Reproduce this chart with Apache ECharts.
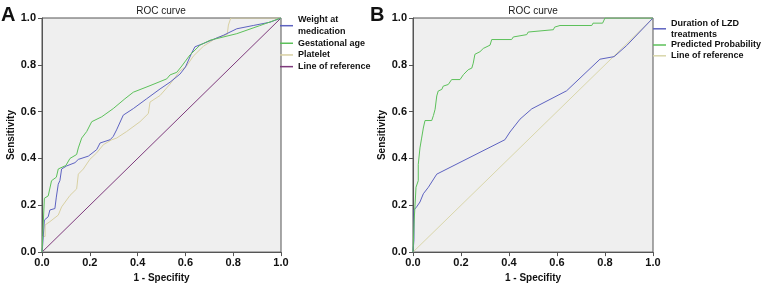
<!DOCTYPE html>
<html>
<head>
<meta charset="utf-8">
<script src="https://cdn.jsdelivr.net/npm/echarts@6/dist/echarts.min.js"></script>
<style>
  html, body { margin: 0; padding: 0; background: #fff; }
  #chart { width: 761px; height: 288px; }
</style>
</head>
<body>
<div id="chart"></div>
<script>
// panel A: [1 - specificity, sensitivity]
const weightAtMedication = [[0,0],[0.003,0.032],[0.01,0.032],[0.01,0.137],[0.026,0.151],[0.033,0.18],[0.054,0.186],[0.06,0.235],[0.068,0.29],[0.075,0.306],[0.082,0.355],[0.103,0.368],[0.138,0.382],[0.152,0.396],[0.194,0.41],[0.229,0.438],[0.243,0.466],[0.285,0.48],[0.298,0.494],[0.312,0.522],[0.34,0.585],[0.382,0.613],[0.438,0.655],[0.494,0.697],[0.536,0.726],[0.577,0.76],[0.6,0.79],[0.626,0.85],[0.64,0.877],[0.675,0.891],[0.759,0.926],[0.815,0.954],[0.884,0.968],[0.954,0.982],[1,1]];
const gestationalAge = [[0,0],[0.003,0.07],[0.01,0.07],[0.01,0.23],[0.026,0.24],[0.04,0.305],[0.06,0.32],[0.068,0.355],[0.1,0.37],[0.117,0.4],[0.145,0.417],[0.152,0.445],[0.166,0.487],[0.187,0.515],[0.208,0.557],[0.25,0.578],[0.298,0.613],[0.347,0.655],[0.382,0.683],[0.452,0.711],[0.522,0.74],[0.536,0.757],[0.564,0.768],[0.585,0.795],[0.619,0.842],[0.661,0.884],[0.703,0.905],[0.815,0.933],[0.91,0.967],[1,1]];
const platelet = [[0,0],[0.003,0.067],[0.013,0.067],[0.013,0.116],[0.033,0.13],[0.068,0.158],[0.082,0.193],[0.117,0.242],[0.145,0.27],[0.152,0.333],[0.173,0.355],[0.2,0.396],[0.229,0.424],[0.257,0.459],[0.292,0.48],[0.312,0.487],[0.354,0.515],[0.41,0.557],[0.445,0.592],[0.452,0.641],[0.494,0.669],[0.536,0.718],[0.577,0.774],[0.605,0.795],[0.633,0.837],[0.675,0.879],[0.73,0.915],[0.775,0.93],[0.78,0.97],[0.79,1],[1,1]];
// panel B
const durationLZD = [[0,0],[0.004,0.053],[0.004,0.18],[0.015,0.193],[0.029,0.214],[0.043,0.249],[0.064,0.277],[0.099,0.333],[0.321,0.448],[0.383,0.48],[0.404,0.513],[0.446,0.568],[0.495,0.612],[0.64,0.689],[0.779,0.824],[0.838,0.835],[0.89,0.882],[1,1]];
const predictedProb = [[0,0],[0.005,0.137],[0.0125,0.277],[0.022,0.305],[0.022,0.375],[0.029,0.445],[0.036,0.487],[0.043,0.53],[0.05,0.562],[0.078,0.562],[0.085,0.583],[0.092,0.61],[0.099,0.667],[0.105,0.688],[0.12,0.695],[0.126,0.709],[0.147,0.716],[0.161,0.737],[0.196,0.737],[0.21,0.758],[0.23,0.779],[0.245,0.786],[0.251,0.807],[0.258,0.845],[0.279,0.856],[0.293,0.87],[0.321,0.884],[0.328,0.908],[0.411,0.908],[0.418,0.919],[0.425,0.926],[0.474,0.929],[0.48,0.94],[0.4875,0.947],[0.585,0.95],[0.59,0.961],[0.6125,0.968],[0.745,0.968],[0.75,0.978],[0.79,0.978],[0.8,1],[1,1]];
const reference = [[0,0],[1,1]];

const font = '"Liberation Sans", Arial, sans-serif';
const axisCol = '#555';

const mkX = (idx)=>({
   type:'value', gridIndex:idx, min:0, max:1, interval:0.2,
   name:'1 - Specifity', nameLocation:'middle', nameGap:19,
   nameTextStyle:{fontFamily:font, fontWeight:'bold', fontSize:10, color:'#111'},
   axisLine:{lineStyle:{color:axisCol}},
   axisTick:{length:4, lineStyle:{color:axisCol}},
   axisLabel:{margin:5, fontFamily:font, fontWeight:'bold', fontSize:11, color:'#111',
      formatter:(v)=>v.toFixed(1)},
   splitLine:{show:false},
});
const mkY = (idx)=>({
   type:'value', gridIndex:idx, min:0, max:1, interval:0.2,
   name:'Sensitivity', nameLocation:'middle', nameGap:26,
   nameTextStyle:{fontFamily:font, fontWeight:'bold', fontSize:10, color:'#111'},
   axisLine:{lineStyle:{color:axisCol}},
   axisTick:{length:4, lineStyle:{color:axisCol}},
   axisLabel:{margin:6, fontFamily:font, fontWeight:'bold', fontSize:11, color:'#111',
      formatter:(v)=>v.toFixed(1)},
   splitLine:{show:false},
});
const mkLine = (name, data, color, idx)=>({
   type:'line', name, data, xAxisIndex:idx, yAxisIndex:idx,
   showSymbol:false, symbol:'none', animation:false,
   lineStyle:{color, width:1}, itemStyle:{color},
});
const legendText = (lh)=>({fontFamily:font, fontWeight:'bold', fontSize:9, lineHeight:lh, color:'#111'});

const chart = echarts.init(document.getElementById('chart'));
chart.setOption({
   animation:false,
   title:[
      {text:'A', left:1, top:5, padding:0, textStyle:{fontFamily:font, fontWeight:'bold', fontSize:20, color:'#111'}},
      {text:'B', left:370, top:5, padding:0, textStyle:{fontFamily:font, fontWeight:'bold', fontSize:20, color:'#111'}},
      {text:'ROC curve', left:161, top:6, padding:0, textAlign:'center', textStyle:{fontFamily:font, fontWeight:'normal', fontSize:10, color:'#222'}},
      {text:'ROC curve', left:533, top:6, padding:0, textAlign:'center', textStyle:{fontFamily:font, fontWeight:'normal', fontSize:10, color:'#222'}},
   ],
   grid:[
      {left:42, top:18, width:239, height:238, show:true, backgroundColor:'#efefef', borderColor:axisCol, borderWidth:1},
      {left:413, top:18, width:240, height:238, show:true, backgroundColor:'#efefef', borderColor:axisCol, borderWidth:1},
   ],
   xAxis:[mkX(0), mkX(1)],
   yAxis:[mkY(0), mkY(1)],
   legend:[
      {orient:'vertical', left:280, top:14, padding:0, itemGap:0, itemWidth:13, itemHeight:1.5, icon:'rect',
       data:['Weight at\nmedication','Gestational age','Platelet','Line of reference'],
       textStyle:legendText(11.7)},
      {orient:'vertical', left:653, top:18, padding:0, itemGap:0, itemWidth:13, itemHeight:1.5, icon:'rect',
       data:['Duration of LZD\ntreatments','Predicted Probability','Line of reference (B)'],
       formatter:(n)=>n.replace(' (B)',''),
       textStyle:legendText(10.8)},
   ],
   series:[
      mkLine('Line of reference', reference, '#7e3a7c', 0),
      mkLine('Platelet', platelet, '#d8d0a2', 0),
      mkLine('Weight at\nmedication', weightAtMedication, '#5d62c0', 0),
      mkLine('Gestational age', gestationalAge, '#5cc05a', 0),
      mkLine('Line of reference (B)', reference, '#d9d6aa', 1),
      mkLine('Duration of LZD\ntreatments', durationLZD, '#5d62c0', 1),
      mkLine('Predicted Probability', predictedProb, '#5cc05a', 1),
   ],
});
</script>
</body>
</html>
